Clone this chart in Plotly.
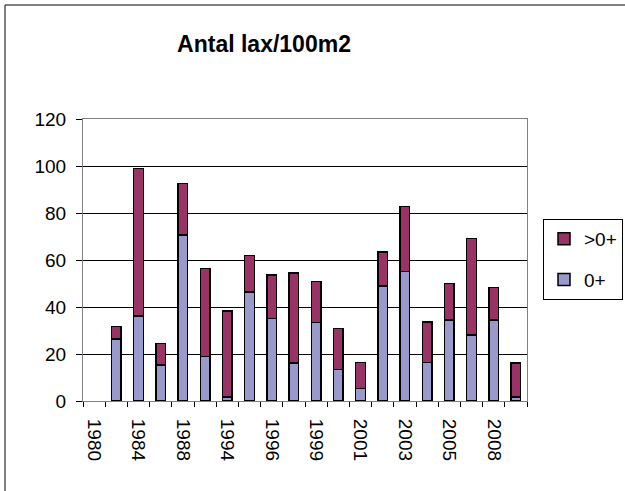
import plotly.graph_objects as go

years = ["1980", "1982", "1984", "1986", "1988", "1992", "1994", "1995", "1996", "1998",
         "1999", "2000", "2001", "2002", "2003", "2004", "2005", "2006", "2008", "2009"]
shown_labels = ["1980", "1984", "1988", "1994", "1996", "1999", "2001", "2003", "2005", "2008"]
young = [None, 26.3, 36.2, 15.3, 70.7, 18.9, 1.8, 46.3, 35.2, 16.1,
         33.5, 13.5, 5.3, 49.0, 55.1, 16.3, 34.5, 28.1, 34.5, 1.8]
older = [None, 5.4, 62.7, 9.1, 21.9, 37.4, 36.4, 15.6, 18.5, 38.3,
         17.4, 17.3, 11.0, 14.5, 27.6, 17.4, 15.5, 41.1, 13.7, 14.4]

W, H = 625, 491
L, R, T, B = 83, 527, 119, 401
FONT = "Liberation Sans, Arial, sans-serif"

fig = go.Figure()
fig.add_trace(go.Bar(x=years, y=young, name="0+", legendgroup="a", legendrank=2,
                     marker=dict(color="#9999cc", line=dict(color="black", width=1.5))))
fig.add_trace(go.Bar(x=years, y=older, name=">0+", legendgroup="b", legendrank=1,
                     marker=dict(color="#993366", line=dict(color="black", width=1.5))))

pw, ph = R - L, B - T
fig.add_shape(type="rect", xref="paper", yref="paper",
              x0=(5 - L) / pw, x1=(W + 10 - L) / pw,
              y0=(B - (H + 10)) / ph, y1=(B - 5) / ph,
              line=dict(color="black", width=1), fillcolor="rgba(0,0,0,0)", layer="below")

fig.update_layout(
    width=W, height=H,
    margin=dict(l=L, r=W - R, t=T, b=H - B, autoexpand=False),
    paper_bgcolor="white", plot_bgcolor="white",
    barmode="stack", bargap=0.57,
    font=dict(family=FONT, size=19, color="black"),
    title=dict(text="Antal lax/100m2", x=264 / W, xanchor="center", xref="container",
               y=1 - 44 / H, yanchor="middle", yref="container",
               font=dict(family=FONT, size=23, weight="bold", color="black")),
    legend=dict(x=(543 - L) / pw, xanchor="left", y=(B - 219) / ph, yanchor="top",
                bordercolor="black", borderwidth=1, bgcolor="white",
                traceorder="grouped", tracegroupgap=13, itemwidth=30,
                font=dict(family=FONT, size=19, color="black")),
    showlegend=True,
)
fig.update_xaxes(type="category", categoryorder="array", categoryarray=years,
                 tickmode="array", tickvals=years,
                 ticktext=[y if y in shown_labels else "" for y in years],
                 tickangle=90, ticks="outside", ticklen=5, tickcolor="black",
                 tickson="boundaries", ticklabelstandoff=13, automargin=False,
                 showline=True, linecolor="#808080", mirror=True, showgrid=False,
                 tickfont=dict(family=FONT, size=19, color="black"))
fig.update_yaxes(range=[0, 120], dtick=20, tick0=0, ticks="outside", ticklen=6,
                 tickcolor="black", showgrid=True, gridcolor="black", gridwidth=1,
                 zeroline=False, showline=True, linecolor="#808080", mirror=True,
                 ticklabelstandoff=6, automargin=False,
                 tickfont=dict(family=FONT, size=19, color="black"))

fig.write_html("out.html", config={"displayModeBar": False},
               post_script="document.body.style.margin='0';document.body.style.overflow='hidden';")
